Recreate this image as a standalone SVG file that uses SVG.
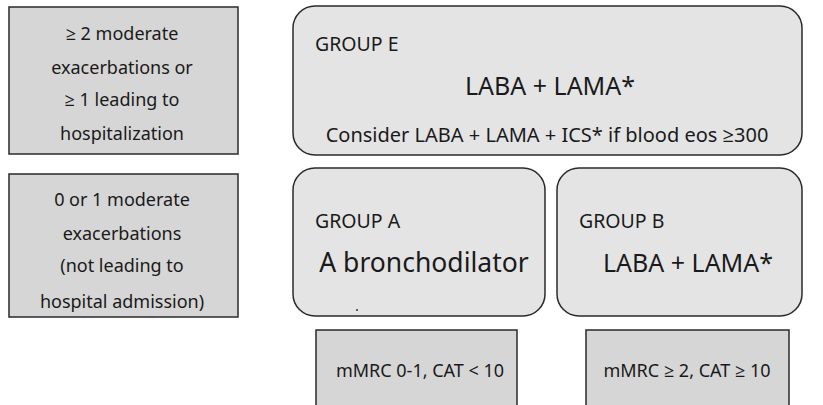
<svg xmlns="http://www.w3.org/2000/svg" width="823" height="405" viewBox="0 0 823 405">
<style>
.crit{fill:#d6d6d6;stroke:#2a2a2a;stroke-width:1.5}
.grp{fill:#e4e4e4;stroke:#2a2a2a;stroke-width:1.5}
text{font-family:"Noto Sans","Open Sans",sans-serif;fill:#1a1a1a}
.c{text-anchor:middle;font-size:18px}
.lbl{font-size:19.5px}
.big{font-size:25px;text-anchor:middle}
.bro{font-size:26.5px;text-anchor:middle}
.med{font-size:20px;text-anchor:middle}
.sm{font-size:18px;text-anchor:middle}
</style>
<rect width="823" height="405" fill="#ffffff"/>
<g id="crit-high">
<rect class="crit" x="9" y="7" width="229" height="147"/>
<text class="c" x="122" y="40">≥ 2 moderate</text>
<text class="c" x="122" y="74">exacerbations or</text>
<text class="c" x="122" y="106">≥ 1 leading to</text>
<text class="c" x="122" y="140">hospitalization</text>
</g>
<g id="crit-low">
<rect class="crit" x="9" y="174" width="229" height="143"/>
<text class="c" x="122" y="206">0 or 1 moderate</text>
<text class="c" x="122" y="240">exacerbations</text>
<text class="c" x="122" y="272">(not leading to</text>
<text class="c" x="122" y="308">hospital admission)</text>
</g>
<g id="group-e">
<rect class="grp" x="293" y="6" width="509" height="149" rx="22"/>
<text class="lbl" x="315" y="51">GROUP E</text>
<text class="big" x="550" y="95">LABA + LAMA*</text>
<text class="med" x="547" y="142">Consider LABA + LAMA + ICS* if blood eos ≥300</text>
</g>
<g id="group-a">
<rect class="grp" x="293" y="168" width="252" height="148" rx="22"/>
<text class="lbl" x="315" y="228">GROUP A</text>
<text class="bro" x="424" y="272">A bronchodilator</text>
<circle cx="357" cy="310" r="1" fill="#333"/>
</g>
<g id="group-b">
<rect class="grp" x="557" y="168" width="245" height="148" rx="22"/>
<text class="lbl" x="579" y="228">GROUP B</text>
<text class="big" x="688" y="272">LABA + LAMA*</text>
</g>
<g id="sym-low">
<rect class="crit" x="316" y="330" width="201" height="80"/>
<text class="sm" x="420" y="377">mMRC 0-1, CAT &lt; 10</text>
</g>
<g id="sym-high">
<rect class="crit" x="586" y="330" width="203" height="80"/>
<text class="sm" x="687" y="377">mMRC ≥ 2, CAT ≥ 10</text>
</g>
<g id="connectors"></g>
</svg>
